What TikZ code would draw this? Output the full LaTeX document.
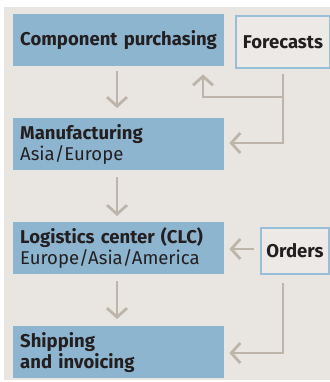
\documentclass[tikz,border=0pt]{standalone}
\usepackage{fontspec}
\setmainfont{Fira Sans}
\usetikzlibrary{arrows.meta}
\definecolor{bg}{HTML}{E9E6E2}
\definecolor{inputfill}{HTML}{ECE9E6}
\definecolor{boxblue}{HTML}{8DB5CF}
\definecolor{edgeblue}{HTML}{98BFD8}
\definecolor{flowgrey}{HTML}{BDB4AA}
\definecolor{ink}{HTML}{231F20}
\begin{document}
\begin{tikzpicture}[x=1bp,y=-1bp,
  stage/.style={fill=boxblue, text=ink, anchor=north west,
    minimum width=211bp, minimum height=52bp, text width=197bp,
    inner xsep=7bp, inner ysep=0bp, align=left,
    font=\fontsize{18.6}{21}\selectfont},
  input/.style={draw=edgeblue, fill=inputfill, text=ink, line width=2bp,
    anchor=north west, inner sep=0bp,
    font=\bfseries\fontsize{18.6}{21}\selectfont},
  flow/.style={draw=flowgrey, line width=2.8bp,
    -{Straight Barb[length=9bp,width=20bp]}}]
  \useasboundingbox (0,0) rectangle (330,382);
  % page and panel background
  \fill[white] (0,0) rectangle (330,382);
  \fill[bg] (4,7) rectangle (330,380);

  % process stages
  \node[stage] (cp)  at (13,14)  {\textbf{Component purchasing}};
  \node[stage] (man) at (13,118) {\textbf{Manufacturing}\\Asia/Europe};
  \node[stage] (clc) at (13,222) {\textbf{Logistics center (CLC)}\\Europe/Asia/America};
  \node[stage] (shp) at (13,326) {\textbf{Shipping}\\\textbf{and invoicing}};

  % inputs
  \node[input, minimum width=94bp, minimum height=52bp] (fc) at (235,15) {Forecasts};
  \node[input, minimum width=68bp, minimum height=46bp] (ord) at (260,227) {Orders};

  % routing points
  \coordinate (fj)  at (283,97);
  \coordinate (fup) at (203,97);
  \coordinate (fdn) at (283,143);
  \coordinate (od)  at (283,353);

  % main flow
  \draw[flow, shorten <=5bp, shorten >=10bp] (cp.south -| 117,0) -- (man.north -| 117,0);
  \draw[flow, shorten <=7bp, shorten >=6bp] (man.south -| 117,0) -- (clc.north -| 117,0);
  \draw[flow, shorten <=7bp, shorten >=7bp] (clc.south -| 117,0) -- (shp.north -| 117,0);

  % forecasts feed purchasing and manufacturing
  \draw[flow, shorten <=5bp, shorten >=8bp] (fc.south -| fj) -- (fj) -- (fup) -- (cp.south -| fup);
  \draw[flow, shorten >=5bp] (fj) -- (fdn) -- (man.east |- fdn);

  % orders feed logistics and shipping
  \draw[flow, shorten <=6bp, shorten >=5bp] (ord.west |- 0,249) -- (clc.east |- 0,249);
  \draw[flow, shorten <=8bp, shorten >=5bp] (ord.south -| od) -- (od) -- (shp.east |- od);
\end{tikzpicture}
\end{document}
